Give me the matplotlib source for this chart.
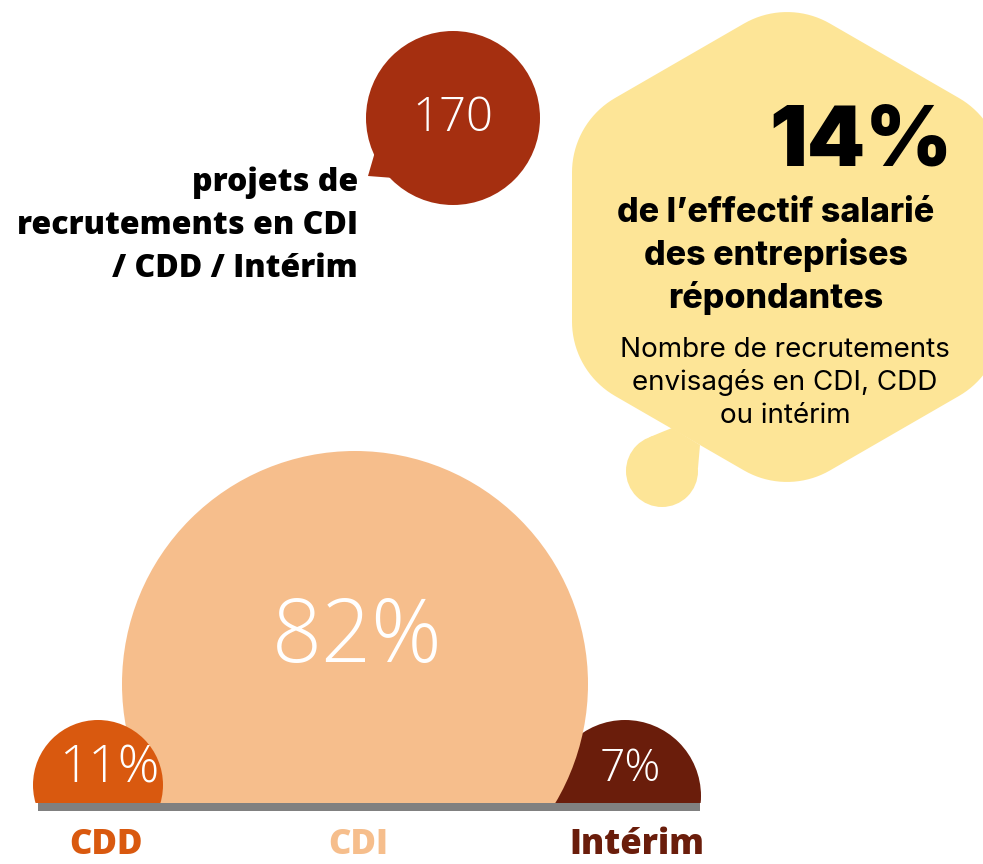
import numpy as np
import matplotlib
matplotlib.use("Agg")
import matplotlib.pyplot as plt
from matplotlib.patches import Circle, Polygon, Rectangle

# data
categories = ["CDD", "CDI", "Intérim"]
shares = [11, 82, 7]
total_projects = 170
share_of_staff = 14

title_lines = ["projets de", "recrutements en CDI", "/ CDD / Intérim"]
bubble_lines = ["de l\u2019effectif salarié", "des entreprises", "répondantes"]
note_lines = ["Nombre de recrutements", "envisagés en CDI, CDD", "ou intérim"]

# layout (pixels, y going down)
W, H = 983, 864
BASE_Y = 803
circle_x = [98, 355, 625]
circle_y = [785, 684, 796]
circle_r = [65, 233, 76]
label_x = [106, 358, 637]
pct_pos = [(109, 769), (357, 639), (630, 770)]
pct_size = [37, 63, 32]
colors = ["#D9590F", "#F6BE8C", "#6A1D0B"]
draw_order = [2, 1, 0]  # interim behind CDI, CDD in front

LIGHT = dict(family="Open Sans", weight="light")

fig = plt.figure(figsize=(W / 100, H / 100), dpi=100)
ax = fig.add_axes([0, 0, 1, 1])
ax.set_xlim(0, W)
ax.set_ylim(H, 0)
ax.set_aspect("equal")
ax.axis("off")

# clip circles at the baseline
clip = Rectangle((0, 0), W, BASE_Y, transform=ax.transData, visible=False)
ax.add_patch(clip)
for i in draw_order:
    c = Circle((circle_x[i], circle_y[i]), circle_r[i], color=colors[i], lw=0, zorder=2)
    ax.add_patch(c)
    c.set_clip_path(clip)
    ax.text(pct_pos[i][0], pct_pos[i][1], f"{shares[i]}%", color="white",
            fontsize=pct_size[i], ha="center", va="center", zorder=5, **LIGHT)
    ax.text(label_x[i], 863, categories[i], color=colors[i], fontsize=25,
            family="Open Sans", weight=800, ha="center", va="bottom", zorder=5)

ax.add_patch(Rectangle((38, BASE_Y), 662, 8, color="#808080", lw=0, zorder=4))

# red speech bubble
red = "#A52F10"
ax.add_patch(Circle((453, 118), 87, color=red, lw=0))
ax.add_patch(Polygon([(377, 145), (368, 176), (394, 178), (410, 160)], color=red, lw=0))
ax.text(453, 119, str(total_projects), color="white", fontsize=34,
        ha="center", va="center", **LIGHT)

for k, line in enumerate(title_lines):
    ax.text(358, 191 + 43 * k, line, fontsize=23, family="Open Sans", weight=800,
            ha="right", va="baseline", color="black")

# yellow rounded hexagon
yellow = "#FDE597"
cx, cy, apo, rc = 787, 247, 215, 86
R = apo / np.cos(np.radians(30))
pts = []
for i in range(6):
    a = np.radians(90 + 60 * i)
    d = R - rc / np.sin(np.radians(60))
    ccx, ccy = cx + d * np.cos(a), cy - d * np.sin(a)
    for t in np.linspace(a - np.radians(30), a + np.radians(30), 20):
        pts.append((ccx + rc * np.cos(t), ccy - rc * np.sin(t)))
ax.add_patch(Polygon(pts, color=yellow, lw=0, zorder=1))
ax.add_patch(Circle((662, 471), 36, color=yellow, lw=0, zorder=1))
ax.add_patch(Polygon([(672, 428), (700, 445), (698, 468), (640, 446), (650, 437), (662, 432)],
                     color=yellow, lw=0, zorder=1))

ax.text(952, 165, f"{share_of_staff}%", fontsize=60, family="Inter", weight="black",
        ha="right", va="baseline", color="black", zorder=3)
for k, line in enumerate(bubble_lines):
    ax.text(776, 222 + 43 * k, line, fontsize=24.5, family="Inter", weight="heavy",
            ha="center", va="baseline", color="black", zorder=3)
for k, line in enumerate(note_lines):
    ax.text(785, 357 + 33 * k, line, fontsize=20, family="Inter",
            ha="center", va="baseline", color="black", zorder=3)

fig.savefig("out.png", dpi=100)
